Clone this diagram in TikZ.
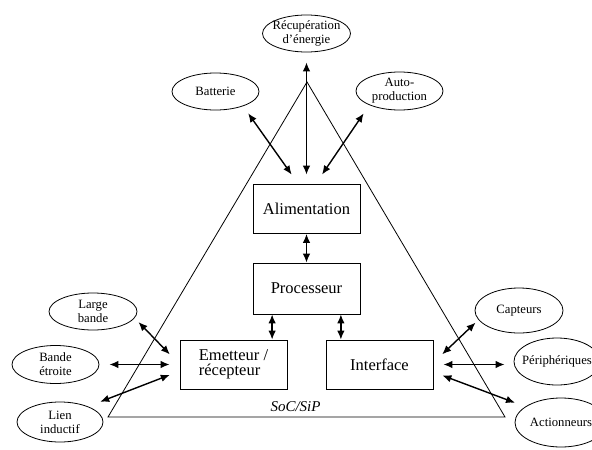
\documentclass[tikz,border=0pt]{standalone}
\usepackage{fontspec}
\setmainfont{Liberation Serif}
\usetikzlibrary{shapes.geometric,arrows.meta}

\begin{document}
\begin{tikzpicture}[x=1pt,y=-1pt,
		block/.style={draw, line width=0.8pt, minimum width=107pt, minimum height=49pt, inner sep=0pt, font=\fontsize{16.5}{15}\selectfont},
		soft/.style={draw, line width=0.8pt, ellipse, minimum width=87pt, minimum height=38pt, inner sep=0pt, align=center, font=\fontsize{12.7}{14}\selectfont},
		link/.style={line width=1.4pt, {Latex[length=9pt,width=7.5pt]}-{Latex[length=9pt,width=7.5pt]}}]
			\useasboundingbox (0,0) rectangle (592,450);
			% the SoC/SiP triangle
			\draw[line width=0.8pt] (307,82) -- (108,417) -- (505,417) -- cycle;
			\node[font=\fontsize{15}{15}\selectfont\itshape] (soc) at (295.5,407) {SoC/SiP};
			% blocks
			\node[block] (alim) at (306.5,209) {Alimentation};
			\node[block, minimum height=51pt] (proc) at (306.5,288.5) {Processeur};
			\node[block, align=left] (emet) at (233.5,364.5) {Emetteur /\\récepteur};
			\node[block] (inter) at (379.5,364.5) {Interface};
			% sources
			\node[soft, minimum width=88pt, minimum height=37pt, inner xsep=-3pt] (recup) at (306.5,33.5) {Récupération\\d’énergie};
			\node[soft, minimum height=37pt] (bat) at (215.5,91.5) {Batterie};
			\node[soft] (autoprod) at (399.5,91) {Auto-\\production};
			% liens radio
			\node[soft, minimum width=88pt, minimum height=37pt] (large) at (93,311.5) {Large\\bande};
			\node[soft] (etroite) at (55.5,364.5) {Bande\\étroite};
			\node[soft, minimum width=86pt, minimum height=40pt] (lien) at (60,422) {Lien\\inductif};
			% E/S
			\node[soft, minimum width=88pt, minimum height=45pt] (capt) at (519,310.5) {Capteurs};
			\node[soft, minimum width=86pt, minimum height=47pt, inner xsep=-4.5pt] (periph) at (557,361.5) {Périphériques};
			\node[soft, minimum width=92pt, minimum height=49pt] (action) at (561,422.5) {Actionneurs};
			% connections
			\draw[link, shorten <=10pt, shorten >=9.5pt] (recup) -- (alim);
			\draw[link, shorten <=8.7pt, shorten >=11.6pt] (bat.-28) -- (alim.108);
			\draw[link, shorten <=10pt, shorten >=11.5pt] (autoprod.205) -- (alim.70);
			\draw[link] (alim) -- (proc);
			\draw[link] (proc.217) -- (proc.217 |- emet.north);
			\draw[link] (proc.-37) -- (proc.-37 |- inter.north);
			\draw[link, shorten <=5.5pt, shorten >=14pt] (large.-9) -- (emet.west);
			\draw[link, shorten <=10pt, shorten >=10pt] (etroite) -- (emet);
			\draw[link, shorten <=13pt, shorten >=10.5pt] (lien.29) -- (emet.187);
			\draw[link, shorten <=4pt, shorten >=12pt] (capt.193) -- (inter.2);
			\draw[link, shorten <=10pt, shorten >=9pt] (inter.east) -- (inter.east -| periph.west);
			\draw[link, shorten <=11pt, shorten >=9.6pt] (action.156) -- (inter.-8);
		\end{tikzpicture}
\end{document}
